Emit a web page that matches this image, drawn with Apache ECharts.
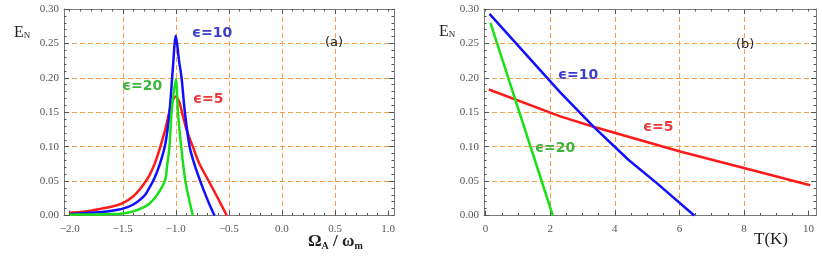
<!DOCTYPE html>
<html><head><meta charset="utf-8">
<script src="https://cdn.jsdelivr.net/npm/echarts@6/dist/echarts.min.js"></script>
<style>html,body{margin:0;padding:0;background:#fff}#c{width:822px;height:263px}</style>
</head><body><div id="c"></div>
<script>
// ---------- Panel (a): E_N vs Omega_A / omega_m ----------
const omegaTicks = [-2.0, -1.5, -1.0, -0.5, 0.0, 0.5, 1.0];
const omegaGrid = [-1.5, -1.0, -0.5, 0.0, 0.5];
const omegaMinor = [-2.0,-1.9,-1.8,-1.7,-1.6,-1.5,-1.4,-1.3,-1.2,-1.1,-1.0,-0.9,-0.8,-0.7,-0.6,-0.5,-0.4,-0.3,-0.2,-0.1,0.0,0.1,0.2,0.3,0.4,0.5,0.6,0.7,0.8,0.9,1.0];
const enTicks = [0.00, 0.05, 0.10, 0.15, 0.20, 0.25, 0.30];
const enGrid = [0.05, 0.10, 0.15, 0.20, 0.25];
const enMinor = [0.00,0.01,0.02,0.03,0.04,0.05,0.06,0.07,0.08,0.09,0.10,0.11,0.12,0.13,0.14,0.15,0.16,0.17,0.18,0.19,0.20,0.21,0.22,0.23,0.24,0.25,0.26,0.27,0.28,0.29,0.30];

const aRedX  = [-2.0,-1.9,-1.8,-1.7,-1.6,-1.5,-1.4,-1.34,-1.3,-1.25,-1.2,-1.15,-1.1,-1.05,-1.02,-1.0,-0.97,-0.95,-0.9,-0.84,-0.78,-0.69,-0.6,-0.52];
const aRedY  = [0.004,0.005,0.007,0.010,0.013,0.018,0.028,0.038,0.046,0.058,0.075,0.098,0.125,0.158,0.170,0.173,0.166,0.155,0.125,0.100,0.076,0.050,0.024,0.0];
const aBlueX = [-2.0,-1.9,-1.8,-1.7,-1.6,-1.5,-1.4,-1.3,-1.25,-1.2,-1.15,-1.1,-1.06,-1.03,-1.0,-0.97,-0.946,-0.915,-0.87,-0.82,-0.77,-0.72,-0.68,-0.635];
const aBlueY = [0.002,0.003,0.004,0.005,0.007,0.010,0.016,0.028,0.040,0.055,0.075,0.103,0.150,0.210,0.261,0.225,0.200,0.150,0.100,0.072,0.050,0.030,0.015,0.0];
const aGreenX = [-2.0,-1.8,-1.6,-1.5,-1.4,-1.3,-1.25,-1.2,-1.15,-1.1,-1.08,-1.06,-1.04,-1.0,-0.98,-0.95,-0.91,-0.87,-0.84];
const aGreenY = [0.001,0.0015,0.002,0.003,0.006,0.012,0.017,0.025,0.036,0.052,0.075,0.100,0.150,0.198,0.150,0.100,0.050,0.020,0.0];

// ---------- Panel (b): E_N vs T(K) ----------
const tTicks = [0, 2, 4, 6, 8, 10];
const tGrid = [2, 4, 6, 8];
const tMinor = [0,0.5,1,1.5,2,2.5,3,3.5,4,4.5,5,5.5,6,6.5,7,7.5,8,8.5,9,9.5,10];

const bRedX  = [0.1, 2.31, 3.34, 6.02, 8.0, 10.05];
const bRedY  = [0.183, 0.144, 0.129, 0.093, 0.069, 0.044];
const bBlueX = [0.12, 2.31, 3.34, 4.42, 5.3, 6.46];
const bBlueY = [0.293, 0.179, 0.129, 0.081, 0.047, 0.0];
const bGreenX = [0.15, 2.08];
const bGreenY = [0.280, 0.0];

const zip = (xs, ys) => xs.map((x, i) => [x, ys[i]]);

const FRAME = '#7a7a7a', TICK = '#555', GRIDC = '#f5a04a';
const labelFont = {fontFamily: 'Liberation Serif', fontSize: 11, color: '#555'};

function axisSet(dim, gi, min, max, ticks, grid, minor, fmt) {
  const isX = dim === 'x';
  const p1 = isX ? 'bottom' : 'left', p2 = isX ? 'top' : 'right';
  const base = {type: 'value', gridIndex: gi, min: min, max: max, scale: false};
  return [
    Object.assign({}, base, {position: p1,
      axisLine: {show: true, onZero: false, lineStyle: {color: FRAME, width: 1}},
      axisTick: {show: true, inside: true, length: 5, customValues: ticks, lineStyle: {color: TICK}},
      axisLabel: Object.assign({show: true, customValues: ticks, formatter: fmt, margin: isX ? 8 : 5}, labelFont),
      splitLine: {show: false}}),
    Object.assign({}, base, {position: p1,
      axisLine: {show: false, onZero: false},
      axisTick: {show: true, inside: true, length: 2.5, customValues: minor, lineStyle: {color: TICK}},
      axisLabel: {show: false}, splitLine: {show: false}}),
    Object.assign({}, base, {position: p2,
      axisLine: {show: true, onZero: false, lineStyle: {color: FRAME, width: 1}},
      axisTick: {show: true, inside: true, length: 5, customValues: grid, lineStyle: {color: TICK}},
      axisLabel: {show: false},
      splitLine: {show: true, lineStyle: {color: GRIDC, width: 1, type: [5, 3]}}}),
    Object.assign({}, base, {position: p2,
      axisLine: {show: false, onZero: false},
      axisTick: {show: true, inside: true, length: 2.5, customValues: minor, lineStyle: {color: TICK}},
      axisLabel: {show: false}, splitLine: {show: false}})
  ];
}

const fmtOmega = v => (v < 0 ? '\u2212' : '') + Math.abs(v).toFixed(1);
const fmtEN = v => v.toFixed(2);
const fmtT = v => String(Math.round(v));

const xAxes = [].concat(
  axisSet('x', 0, -2.054, 1.056, omegaTicks, omegaGrid, omegaMinor, fmtOmega),
  axisSet('x', 1, -0.05, 10.23, tTicks, tGrid, tMinor, fmtT));
const yAxes = [].concat(
  axisSet('y', 0, 0, 0.30, enTicks, enGrid, enMinor, fmtEN),
  axisSet('y', 1, 0, 0.30, enTicks, enGrid, enMinor, fmtEN));

const RED = '#ff1a1a', BLUE = '#1010ff', GREEN = '#19e019';
function ser(xi, data, color, smooth) {
  return {type: 'line', xAxisIndex: xi, yAxisIndex: xi, data: data, showSymbol: false,
    smooth: smooth, clip: true,
    lineStyle: {color: color, width: 2.5}, itemStyle: {color: color}, silent: true, animation: false};
}

function txt(x, y, text, color, size, weight, family, align) {
  return {type: 'text', x: x, y: y, silent: true, z: 100,
    style: {text: text, fill: color, font: (weight || 'bold') + ' ' + size + 'px ' + (family || '"DejaVu Sans"'),
      align: align || 'left', verticalAlign: 'middle'}};
}
function rich(x, y, text, richDef) {
  return {type: 'text', x: x, y: y, silent: true, z: 100,
    style: {text: text, rich: richDef, verticalAlign: 'middle', align: 'left'}};
}
const serifRich = {
  e: {fontFamily: 'Liberation Serif', fontSize: 16, fill: '#222'},
  n: {fontFamily: 'Liberation Serif', fontSize: 9, fill: '#222', padding: [5, 0, 0, 0]},
  big: {fontFamily: 'Liberation Serif', fontSize: 17, fontWeight: 'bold', fill: '#222'},
  sub: {fontFamily: 'Liberation Serif', fontSize: 10, fontWeight: 'bold', fill: '#222', padding: [9, 0, 0, 0]},
  t: {fontFamily: 'Liberation Serif', fontSize: 17, fill: '#222'}
};

const option = {
  backgroundColor: '#fff',
  animation: false,
  grid: [
    {left: 64, top: 9, width: 330, height: 206.5, containLabel: false},
    {left: 484, top: 9, width: 332, height: 206.5, containLabel: false}
  ],
  xAxis: xAxes,
  yAxis: yAxes,
  series: [
    ser(0, zip(aRedX, aRedY), RED, 0.3),
    ser(0, zip(aBlueX, aBlueY), BLUE, 0.3),
    ser(0, zip(aGreenX, aGreenY), GREEN, 0.3),
    ser(4, zip(bRedX, bRedY), RED, false),
    ser(4, zip(bBlueX, bBlueY), BLUE, false),
    ser(4, zip(bGreenX, bGreenY), GREEN, false)
  ],
  graphic: [
    rich(14, 33, '{e|E}{n|N}', serifRich),
    rich(439, 32, '{e|E}{n|N}', serifRich),
    rich(308, 242, '{big|\u03A9}{sub|A}{big| / \u03C9}{sub|m}', serifRich),
    rich(754, 240, '{t|T(K)}', serifRich),
    txt(192, 33, '\u03F5=10', '#3d3dcc', 14),
    txt(122, 86, '\u03F5=20', '#3cb43c', 14),
    txt(193, 99, '\u03F5=5', '#e83a3a', 14),
    txt(325, 43, '(a)', '#222', 13, 'normal'),
    txt(558, 75, '\u03F5=10', '#3d3dcc', 14),
    txt(643, 127, '\u03F5=5', '#e83a3a', 14),
    txt(535, 148, '\u03F5=20', '#3cb43c', 14),
    txt(736, 45, '(b)', '#222', 13, 'normal')
  ]
};

const chart = echarts.init(document.getElementById('c'), null, {renderer: 'canvas'});
chart.setOption(option);
</script>
</body></html>
